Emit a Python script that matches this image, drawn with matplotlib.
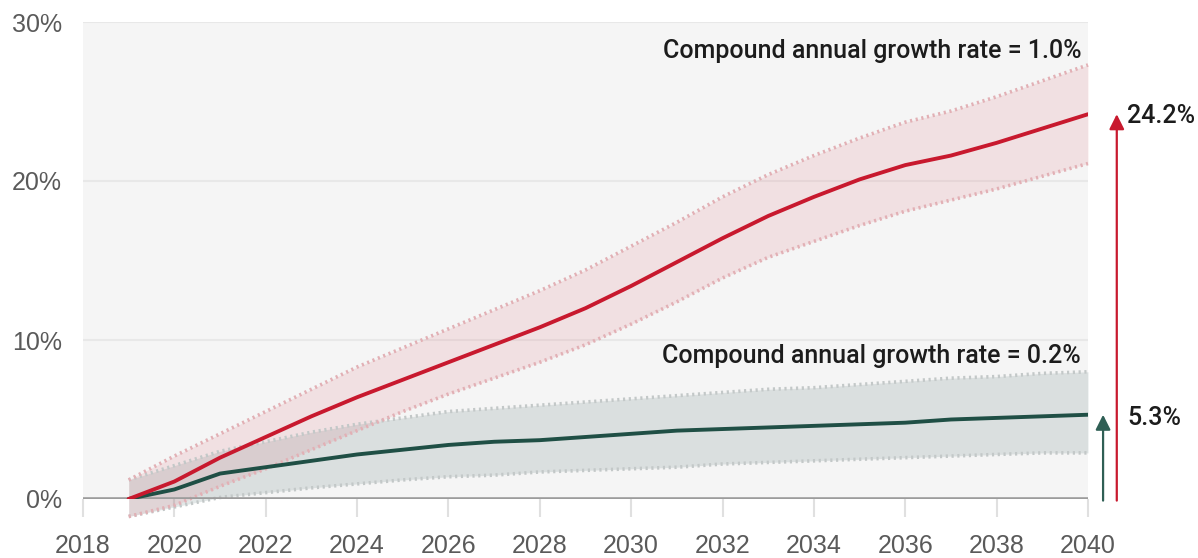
import matplotlib
matplotlib.use("Agg")
import matplotlib.pyplot as plt
from matplotlib.ticker import FuncFormatter

years = list(range(2019, 2041))

high_mid = [0.0, 1.1, 2.6, 3.9, 5.2, 6.4, 7.5, 8.6, 9.7, 10.8, 12.0, 13.4,
            14.9, 16.4, 17.8, 19.0, 20.1, 21.0, 21.6, 22.4, 23.3, 24.2]
high_upper = [1.2, 2.7, 4.1, 5.5, 6.9, 8.3, 9.5, 10.7, 11.9, 13.1, 14.4, 15.9,
              17.4, 19.0, 20.4, 21.6, 22.7, 23.7, 24.4, 25.3, 26.3, 27.3]
high_lower = [-1.1, -0.4, 0.8, 1.9, 3.1, 4.3, 5.5, 6.6, 7.6, 8.6, 9.7, 11.0,
              12.4, 13.9, 15.2, 16.2, 17.2, 18.1, 18.8, 19.5, 20.3, 21.1]

low_mid = [0.0, 0.6, 1.6, 2.0, 2.4, 2.8, 3.1, 3.4, 3.6, 3.7, 3.9, 4.1,
           4.3, 4.4, 4.5, 4.6, 4.7, 4.8, 5.0, 5.1, 5.2, 5.3]
low_upper = [1.2, 2.1, 3.0, 3.6, 4.2, 4.7, 5.1, 5.5, 5.7, 5.9, 6.1, 6.3,
             6.5, 6.7, 6.9, 7.0, 7.2, 7.4, 7.6, 7.7, 7.9, 8.0]
low_lower = [-1.1, -0.5, 0.1, 0.4, 0.7, 0.95, 1.2, 1.4, 1.5, 1.7, 1.8, 1.9,
             2.0, 2.2, 2.3, 2.4, 2.5, 2.6, 2.7, 2.8, 2.9, 2.9]

x_ticks = list(range(2018, 2041, 2))
y_ticks = [0, 10, 20, 30]

high_label = "Compound annual growth rate = 1.0%"
low_label = "Compound annual growth rate = 0.2%"
high_end = 24.2
low_end = 5.3

RED = "#c8192e"
RED_EDGE = "#e2b0b5"
GREEN = "#1f4f45"
GREY_EDGE = "#c3c8c8"
TEXT = "#1c1c1c"
NOTE_FONT = dict(fontsize=18, color=TEXT, fontweight="medium",
                 family=["Roboto", "DejaVu Sans"])

plt.rcParams["font.family"] = ["Liberation Sans", "DejaVu Sans"]

fig = plt.figure(figsize=(11.98, 5.58), dpi=100)
ax = fig.add_axes([83 / 1198, 1 - 499 / 558, (1088 - 83) / 1198, (499 - 22) / 558])
ax.set_facecolor("#f5f5f5")
ax.set_xlim(2018, 2040)
ax.set_ylim(0, 30)

for s in ax.spines.values():
    s.set_visible(False)

for y in y_ticks[1:]:
    ax.axhline(y, color="#e8e8e8", lw=1.5, zorder=1)

# uncertainty bands
ax.fill_between(years, low_lower, low_upper, color="#8fa3a3", alpha=0.26,
                lw=0, zorder=2, clip_on=False)
ax.fill_between(years, high_lower, high_upper, color="#d8505d", alpha=0.12,
                lw=0, zorder=3, clip_on=False)
dots = (0, (0.6, 1.0))
for arr in (low_upper, low_lower):
    ax.plot(years, arr, color=GREY_EDGE, lw=2.6, ls=dots, zorder=4, clip_on=False)
for arr in (high_upper, high_lower):
    ax.plot(years, arr, color=RED_EDGE, lw=2.6, ls=dots, zorder=4, clip_on=False)

ax.axhline(0, color="#9c9c9c", lw=2.6, zorder=5)

ax.plot(years, low_mid, color=GREEN, lw=2.8, zorder=6, solid_capstyle="round",
        solid_joinstyle="round")
ax.plot(years, high_mid, color=RED, lw=2.8, zorder=6, solid_capstyle="round",
        solid_joinstyle="round")

ax.text(2039.85, 28.2, high_label, ha="right", va="center", **NOTE_FONT)
ax.text(2039.85, 9.0, low_label, ha="right", va="center", **NOTE_FONT)

# end-point arrows on the right
ax.annotate("", xy=(2040.33, low_end), xytext=(2040.33, -0.1),
            arrowprops=dict(arrowstyle="-|>,head_length=0.9,head_width=0.45",
                            color="#2f5f55", lw=1.6, shrinkA=0, shrinkB=0),
            annotation_clip=False)
ax.annotate("", xy=(2040.63, high_end), xytext=(2040.63, -0.1),
            arrowprops=dict(arrowstyle="-|>,head_length=0.9,head_width=0.45",
                            color=RED, lw=1.6, shrinkA=0, shrinkB=0),
            annotation_clip=False)
ax.text(2040.86, low_end - 0.2, f"{low_end:.1f}%", ha="left", va="center",
        clip_on=False, **NOTE_FONT)
ax.text(2040.86, high_end - 0.1, f"{high_end:.1f}%", ha="left", va="center",
        clip_on=False, **NOTE_FONT)

ax.set_xticks(x_ticks)
ax.set_yticks(y_ticks)
ax.yaxis.set_major_formatter(FuncFormatter(lambda v, p: f"{v:.0f}%"))
ax.tick_params(axis="x", length=13, width=1.5, color="#e0e0e0", pad=12,
               labelsize=18, labelcolor="#5a5a5a")
ax.tick_params(axis="y", length=0, pad=15, labelsize=18, labelcolor="#5a5a5a")

fig.savefig("out.png", dpi=100, facecolor="white")
